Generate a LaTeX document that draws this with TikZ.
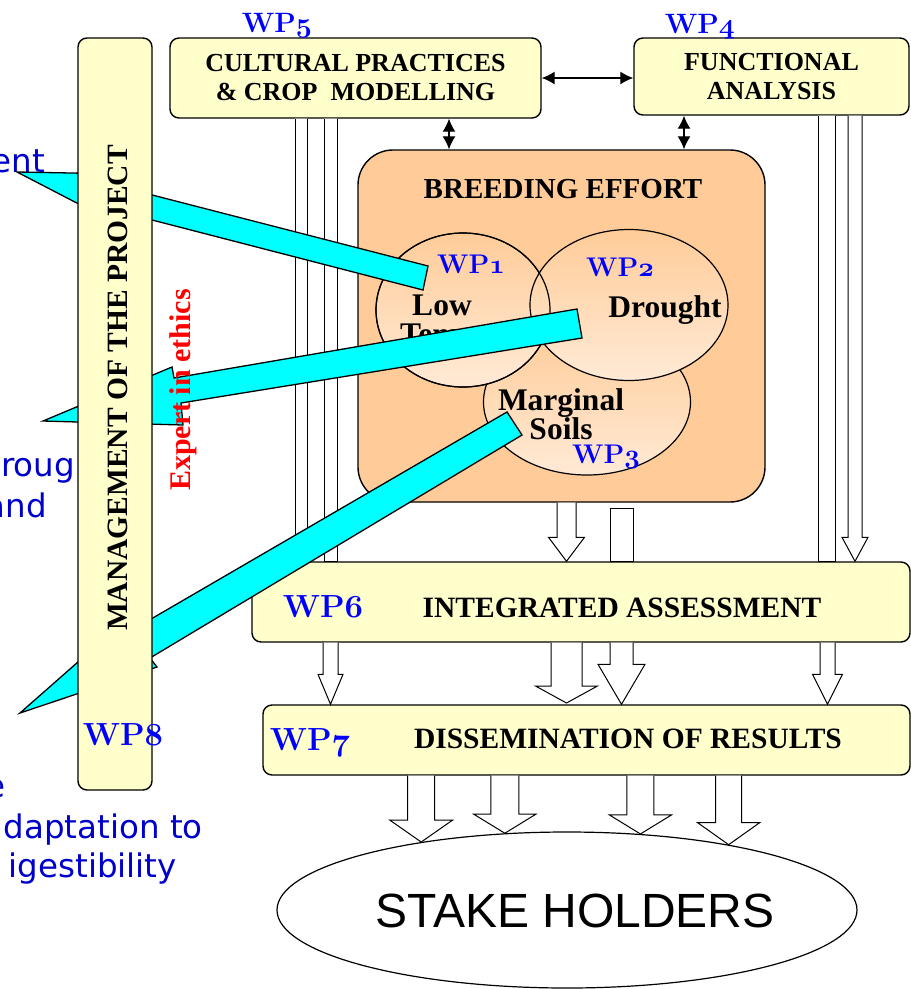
\documentclass[tikz,border=0pt]{standalone}
\usepackage{fontspec}
\usetikzlibrary{shapes.geometric,arrows.meta}
\newfontfamily\tnr{Liberation Serif}
\newfontfamily\comicf{DejaVu Sans}
\newfontfamily\arialf{Liberation Sans}
\definecolor{boxyellow}{RGB}{255,255,204}
\definecolor{peach}{RGB}{255,204,153}
\definecolor{peachlight}{RGB}{255,234,214}
\definecolor{wpblue}{RGB}{0,0,255}
\definecolor{noteblue}{RGB}{0,0,204}
\definecolor{bandcyan}{RGB}{0,255,255}
% cifras de estilo antiguo para las etiquetas WP
\DeclareFontFamily{OML}{osnum}{}
\DeclareFontShape{OML}{osnum}{b}{it}{<->cmmib10}{}
\newcommand{\osdigit}[1]{{\usefont{OML}{osnum}{b}{it}#1}}
% flecha hueca: nodo origen, punta, semiancho, semiancho punta, largo punta
\newcommand{\hollowarrow}[5]{%
  \path (#2) coordinate (hatip) (hatip |- #1.south) coordinate (hatop);
  \filldraw[hollow] ([xshift=-#3pt]hatop) -- ([xshift=-#3pt,yshift=#5pt]hatip)
    -- ([xshift=-#4pt,yshift=#5pt]hatip) -- (hatip) -- ([xshift=#4pt,yshift=#5pt]hatip)
    -- ([xshift=#3pt,yshift=#5pt]hatip) -- ([xshift=#3pt]hatop);
}
\begin{document}
\begin{tikzpicture}[x=1pt,y=-1pt,
  ybox/.style={draw, line width=1.4pt, rounded corners=9pt, fill=boxyellow, inner sep=0pt},
  boxtext/.style={font=\tnr\bfseries\fontsize{26}{29}\selectfont, align=center},
  bigtext/.style={font=\tnr\bfseries\fontsize{29}{30}\selectfont, inner sep=0pt, anchor=base},
  wptag/.style={text=wpblue, font=\bfseries\fontsize{28}{28}\selectfont, inner sep=0pt, anchor=base},
  bubble/.style={ellipse, draw, line width=1.2pt, inner sep=0pt, top color=peach, bottom color=peachlight},
  bubbletext/.style={font=\tnr\bfseries\fontsize{31.5}{29}\selectfont, align=center, inner sep=0pt},
  band/.style={fill=bandcyan, draw, line width=1.3pt, line join=miter},
  hollow/.style={fill=white, draw, line width=1pt},
  dblarrow/.style={{Latex[length=13pt,width=13pt]}-{Latex[length=13pt,width=13pt]}, line width=1.3pt},
  note/.style={text=noteblue, font=\comicf\fontsize{32.5}{32}\selectfont, anchor=base east, inner sep=0pt}]
  \useasboundingbox (0,0) rectangle (911,989);
  \clip (0,0) rectangle (911,989);

  % Textos cortados a la izquierda
  \node[note] (noteent) at (45,172) {ent};
  \node[note] (notemark) at (2,428) {e};
  \node[note] (noteroug) at (75,476) {roug};
  \node[note] (noteand) at (47,517) {and};
  \node[note] (notee) at (6,797) {e};
  \node[note] (notedapt) at (203,838) {daptation to};
  \node[note] (notedig) at (177,877) {igestibility};

  % Cajas de los paquetes de trabajo
  \node[ybox, boxtext, minimum width=371pt, minimum height=80pt] (wpfive) at (355.5,78) {CULTURAL PRACTICES\\\& CROP~~MODELLING};
  \node[ybox, boxtext, minimum width=275pt, minimum height=77pt] (wpfour) at (771.5,76.5) {FUNCTIONAL\\ANALYSIS};
  \node[draw, line width=1.4pt, rounded corners=35pt, fill=peach, minimum width=407pt, minimum height=352pt] (breed) at (561.5,326) {};
  \node[ybox, minimum width=658pt, minimum height=80pt] (wpsix) at (581,602) {};
  \node[ybox, minimum width=647pt, minimum height=70pt] (wpseven) at (586.5,740) {};
  \node[ellipse, draw, line width=1.2pt, inner sep=0pt, minimum width=580pt, minimum height=156pt] (stake) at (567,910) {};

  % Flechas dobles
  \draw[dblarrow] (wpfive.east) -- (wpfive.east -| wpfour.west);
  \draw[dblarrow] (449,0 |- wpfive.south) -- (449,0 |- breed.north);
  \draw[dblarrow] (684,0 |- wpfour.south) -- (684,0 |- breed.north);

  % Flechas huecas
  \hollowarrow{wpfive}{301,0 |- wpsix.north}{6}{6}{0}
  \hollowarrow{wpfive}{330.5,0 |- wpsix.north}{6.5}{6.5}{0}
  \hollowarrow{wpfour}{826.5,0 |- wpsix.north}{8.5}{8.5}{0}
  \hollowarrow{wpfour}{855,0 |- wpsix.north}{7}{13}{24}
  \hollowarrow{breed}{566.5,0 |- wpsix.north}{9.5}{18}{24}
  \draw[hollow] (610,508) rectangle (633,0 |- wpsix.north);
  \hollowarrow{wpsix}{330.5,0 |- wpseven.north}{7.5}{12.5}{30}
  \hollowarrow{wpsix}{566.5,703}{15.5}{31}{17}
  \hollowarrow{wpsix}{621.5,0 |- wpseven.north}{11.5}{23.5}{40}
  \hollowarrow{wpsix}{827.5,0 |- wpseven.north}{7.5}{15}{30}
  \hollowarrow{wpseven}{stake.155.8}{13.5}{31.5}{22}
  \hollowarrow{wpseven}{stake.129.1}{14}{31}{19}
  \hollowarrow{wpseven}{stake.46.2}{13.5}{31}{19}
  \hollowarrow{wpseven}{stake.22.3}{13}{31}{22}

  % Esfuerzo de mejora
  \node[bigtext] (breedtitle) at (563,198) {BREEDING EFFORT};
  \node[bubble, minimum width=207pt, minimum height=146pt] (soils) at (587,402) {};
  \node[bubble, minimum width=174pt, minimum height=154pt] (lowtemp) at (463,310) {};
  \node[bubble, minimum width=198pt, minimum height=151pt] (drought) at (629,305) {};
  \draw[line width=1.2pt] (lowtemp.center) ellipse [x radius=87, y radius=77];
  \node[bubbletext] (lowtext) at (442,323) {Low\\Temp.};
  \node[bubbletext, anchor=base] (droughttext) at (665,317) {Drought};
  \node[bubbletext] (soilstext) at (561,414) {Marginal\\Soils};

  % Bandas cian
  \draw[band] (17,172) -- (125,174) -- (125,188) -- (428,266) -- (423,290) -- (125,213) -- (125,228) -- cycle;
  \draw[band] (43,421) -- (172,367) -- (174,378) -- (577,309) -- (582,338) -- (181,403) -- (183,425) -- cycle;
  \draw[band] (20,713) -- (120,625) -- (127,633) -- (507,412) -- (522,435) -- (150,658) -- (157,667) -- cycle;

  % Gestion del proyecto
  \node[ybox, minimum width=74pt, minimum height=752pt] (mgmt) at (115,414) {};
  \node[font=\tnr\bfseries\fontsize{29.5}{29}\selectfont, rotate=90, inner sep=0pt] (mgmttext) at (118,388) {MANAGEMENT OF THE PROJECT};
  \node[text=red, font=\tnr\bfseries\fontsize{30}{30}\selectfont, rotate=90, inner sep=0pt] (ethics) at (183,390) {Expert in ethics};

  % Textos de las cajas
  \node[bigtext, font=\tnr\bfseries\fontsize{29.5}{29}\selectfont] (wpsixtext) at (622,617) {INTEGRATED ASSESSMENT};
  \node[bigtext, font=\tnr\bfseries\fontsize{29.5}{29}\selectfont] (wpseventext) at (628,748) {DISSEMINATION OF RESULTS};
  \node[font=\arialf\fontsize{48}{48}\selectfont, inner sep=0pt] (stakelabel) at (575,911) {STAKE HOLDERS};

  % Etiquetas WP
  \node[wptag] (tagfive) at (277,32) {WP\osdigit{5}};
  \node[wptag] (tagfour) at (700,33) {WP\osdigit{4}};
  \node[wptag, font=\bfseries\fontsize{27}{27}\selectfont] (tagone) at (471,273) {WP\osdigit{1}};
  \node[wptag, font=\bfseries\fontsize{27}{27}\selectfont] (tagtwo) at (620,276) {WP\osdigit{2}};
  \node[wptag, font=\bfseries\fontsize{27}{27}\selectfont] (tagthree) at (606,463) {WP\osdigit{3}};
  \node[wptag, font=\bfseries\fontsize{32}{32}\selectfont] (tagsix) at (323,617) {WP\osdigit{6}};
  \node[wptag, font=\bfseries\fontsize{32}{32}\selectfont] (tagseven) at (310,750) {WP\osdigit{7}};
  \node[wptag, font=\bfseries\fontsize{32}{32}\selectfont] (tageight) at (123,745) {WP\osdigit{8}};
\end{tikzpicture}
\end{document}
